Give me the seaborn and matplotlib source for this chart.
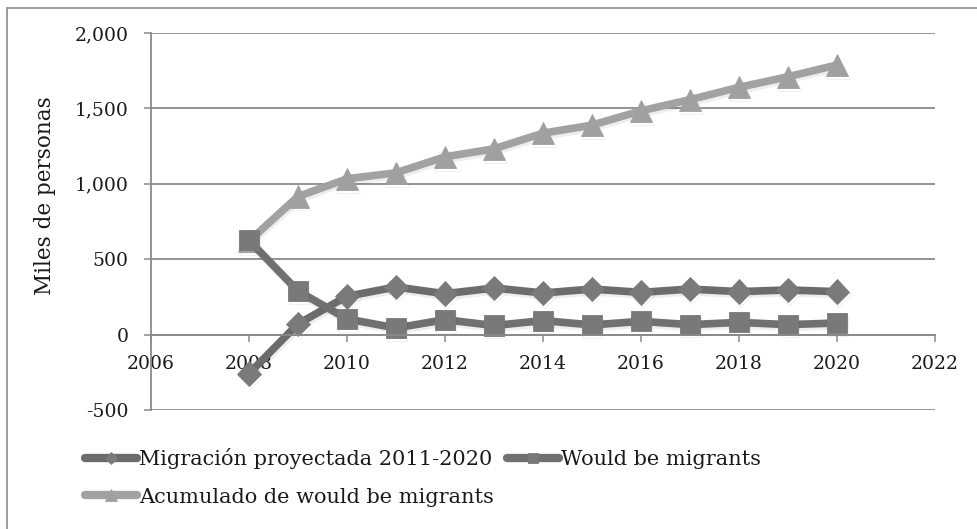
import matplotlib
matplotlib.use("Agg")
import matplotlib.pyplot as plt
import matplotlib.patheffects as pe
from matplotlib.lines import Line2D
from matplotlib.ticker import FuncFormatter
import seaborn as sns
import pandas as pd

# Series values (thousands of people)
years = [2008, 2009, 2010, 2011, 2012, 2013, 2014, 2015, 2016, 2017, 2018, 2019, 2020]
migracion = [-258, 71, 254, 316, 271, 309, 276, 302, 280, 302, 285, 296, 285]
would_be = [625, 289, 104, 44, 99, 60, 93, 64, 88, 66, 81, 66, 77]
acumulado = [620, 916, 1033, 1073, 1179, 1232, 1336, 1389, 1484, 1558, 1640, 1710, 1788]

labels = ["Migración proyectada 2011-2020", "Would be migrants", "Acumulado de would be migrants"]
y_ticks = [-500, 0, 500, 1000, 1500, 2000]
x_ticks = [2006, 2008, 2010, 2012, 2014, 2016, 2018, 2020, 2022]

sns.set_theme(style="white")
plt.rcParams["font.family"] = ["DejaVu Serif"]
plt.rcParams["text.color"] = "#1a1a1a"

W, H = 977, 529
fig = plt.figure(figsize=(W / 100, H / 100), dpi=100)
ax = fig.add_axes([151 / W, 1 - 410 / H, (935 - 151) / W, (410 - 33) / H])

df = pd.DataFrame({"year": years, "mig": migracion, "wb": would_be, "acc": acumulado})

shadow = [pe.SimpleLineShadow(offset=(1.0, -2.0), shadow_color="k", alpha=0.07), pe.Normal()]

styles = {
    "mig": (labels[0], "#6c6c6f", "D", 12.5, "#7a7a7d"),
    "wb": (labels[1], "#707073", "s", 14.5, "#79797c"),
    "acc": (labels[2], "#a2a2a5", "^", 16, "#a0a0a3"),
}

# accumulated series first so the darker series sit on top of it
for col in ["acc", "mig", "wb"]:
    lab, color, marker, ms, mfc = styles[col]
    sns.lineplot(data=df, x="year", y=col, ax=ax, color=color, linewidth=5.5,
                 marker=marker, markersize=ms, markerfacecolor=mfc,
                 markeredgecolor=mfc, markeredgewidth=0.6,
                 solid_capstyle="round", solid_joinstyle="round",
                 path_effects=shadow, label=lab, legend=False)

ax.set_xlim(2006, 2022)
ax.set_ylim(-500, 2000)
ax.set_yticks(y_ticks)
ax.set_xticks(x_ticks)
ax.yaxis.set_major_formatter(FuncFormatter(lambda v, p: f"{int(v):,}" if v >= 0 else f"-{int(-v):,}"))

grid_c = "#8a8a8a"
ax.grid(axis="y", color=grid_c, linewidth=1.3)
ax.grid(axis="x", visible=False)
for s in ["top", "right"]:
    ax.spines[s].set_visible(False)
ax.spines["bottom"].set_position(("data", 0))
for s in ["bottom", "left"]:
    ax.spines[s].set_color(grid_c)
    ax.spines[s].set_linewidth(1.3)
ax.tick_params(axis="both", direction="out", length=5, width=1.1, color=grid_c,
               labelsize=13.5, labelcolor="#1a1a1a", pad=11)
ax.tick_params(axis="x", bottom=True, pad=10)
ax.tick_params(axis="y", left=True)
ax.set_xlabel("")
ax.set_ylabel("Miles de personas", fontsize=15.5, color="#1a1a1a")
ax.yaxis.set_label_coords((45 - 151) / 784, (410 - 196) / 377)
ax.yaxis.label.set_va("center")
ax.set_axisbelow(True)

# legend: two rows, the accumulated series on the second row
line_by_label = {l.get_label(): l for l in ax.get_lines()}
order = [labels[0], labels[2], labels[1]]
handles = [line_by_label[l] for l in order]
leg = fig.legend(handles, order, loc="upper left", bbox_to_anchor=(85 / W, 1 - 448 / H),
                 ncol=2, frameon=False, fontsize=15, handlelength=2.5,
                 handletextpad=0.1, columnspacing=0.62, labelspacing=0.9,
                 borderpad=0, borderaxespad=0, markerscale=0.5, numpoints=1)
for h in leg.legend_handles:
    h.set_linewidth(6)
    h.set_path_effects([])

# outer frame of the chart area
frame_c = "#8c8c8c"
fig.add_artist(Line2D([7 / W, 7 / W], [0, 1 - 8 / H], color=frame_c, linewidth=1.2))
fig.add_artist(Line2D([7 / W, 1], [1 - 8 / H, 1 - 8 / H], color=frame_c, linewidth=1.2))

fig.savefig("out.png", dpi=100, facecolor="white")
